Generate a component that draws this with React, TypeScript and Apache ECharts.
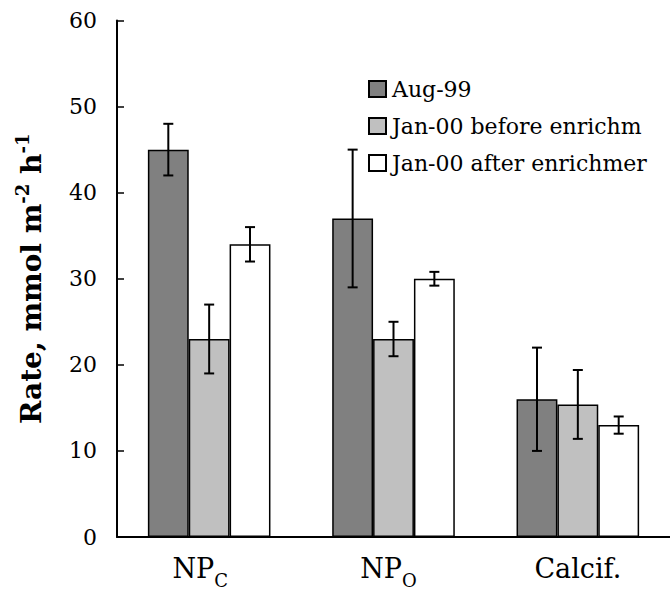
import React, { useEffect, useRef } from "react";
import * as echarts from "echarts";

const categories = ["NPC", "NPO", "Calcif."];
const seriesNames = ["Aug-99", "Jan-00 before enrichm", "Jan-00 after enrichmer"];
const aug99 = [45, 37, 16];
const aug99Err = [3, 8, 6];
const janBefore = [23, 23, 15.4];
const janBeforeErr = [4, 2, 4];
const janAfter = [34, 30, 13];
const janAfterErr = [2, 0.8, 1];
const colors = ["#808080", "#c0c0c0", "#ffffff"];

const FONT = "DejaVu Serif";
const GAP = 0.335;

function errSeries(k: number, means: number[], errs: number[]) {
  return {
    type: "custom",
    silent: true,
    z: 10,
    data: means.map((m, i) => [i, m - errs[i], m + errs[i]]),
    encode: { x: 0, y: [1, 2] },
    renderItem: (params: any, api: any) => {
      const idx = api.value(0);
      const lo = api.coord([idx, api.value(1)]);
      const hi = api.coord([idx, api.value(2)]);
      const band = api.size([1, 0])[0];
      const bw = (band * (1 - GAP)) / 3;
      const x = lo[0] + (k - 1) * bw;
      const cap = 5;
      const style = { stroke: "#000", lineWidth: 2 };
      return {
        type: "group",
        children: [
          { type: "line", shape: { x1: x, y1: lo[1], x2: x, y2: hi[1] }, style },
          { type: "line", shape: { x1: x - cap, y1: hi[1], x2: x + cap, y2: hi[1] }, style },
          { type: "line", shape: { x1: x - cap, y1: lo[1], x2: x + cap, y2: lo[1] }, style },
        ],
      };
    },
  };
}

export default function App() {
  const ref = useRef<HTMLDivElement>(null);
  useEffect(() => {
    if (!ref.current) return;
    const chart = echarts.init(ref.current, null, { renderer: "svg" });
    const values = [aug99, janBefore, janAfter];
    const errs = [aug99Err, janBeforeErr, janAfterErr];
    const sub = { fontFamily: FONT, fontSize: 18, color: "#000", lineHeight: 20, verticalAlign: "bottom" };
    chart.setOption({
      animation: false,
      backgroundColor: "#fff",
      grid: { left: 117, top: 20.5, right: -10, bottom: 58 },
      legend: {
        data: seriesNames,
        orient: "vertical",
        left: 368,
        top: 76,
        padding: 0,
        itemWidth: 17,
        itemHeight: 16,
        itemGap: 11,
        icon: "rect",
        textStyle: { fontFamily: FONT, fontSize: 22, color: "#000", lineHeight: 26, padding: [0, 0, 0, 1] },
      },
      xAxis: {
        type: "category",
        data: categories,
        axisLine: { lineStyle: { color: "#000", width: 2 } },
        axisTick: { show: false },
        axisLabel: {
          margin: 18,
          formatter: (v: string) =>
            v === "NPC" ? "{m|NP}{sc|C}" : v === "NPO" ? "{m|NP}{so|O}" : "{m|" + v + "}",
          rich: {
            m: { fontFamily: FONT, fontSize: 27, color: "#000", lineHeight: 34, verticalAlign: "top" },
            sc: { ...sub, padding: [0, 18, 0, 0] },
            so: { ...sub, padding: [0, 10, 0, 0] },
          },
        },
      },
      yAxis: {
        type: "value",
        min: 0,
        max: 60,
        interval: 10,
        name: "{m|Rate, mmol m}{s|-2}{m| h}{s|-1}",
        nameLocation: "middle",
        nameGap: 72,
        nameTextStyle: {
          rich: {
            m: { fontFamily: FONT, fontSize: 28, fontWeight: "bold", color: "#000", lineHeight: 32, verticalAlign: "bottom" },
            s: { fontFamily: FONT, fontSize: 18, fontWeight: "bold", color: "#000", lineHeight: 18, verticalAlign: "top" },
          },
        },
        axisLine: { show: true, lineStyle: { color: "#000", width: 2 } },
        axisTick: { show: true, inside: true, length: 7, lineStyle: { color: "#000", width: 1.5 } },
        axisLabel: { fontFamily: FONT, fontSize: 22, color: "#000", margin: 20 },
        splitLine: { show: false },
      },
      series: [
        ...values.map((vals, k) => ({
          type: "bar",
          name: seriesNames[k],
          data: vals,
          barGap: "0%",
          barCategoryGap: GAP * 100 + "%",
          itemStyle: { color: colors[k], borderColor: "#000", borderWidth: 1.5 },
        })),
        ...values.map((vals, k) => errSeries(k, vals, errs[k])),
      ],
    });
    return () => chart.dispose();
  }, []);
  return (
    <div
      ref={ref}
      style={{ position: "absolute", left: 0, top: 0, width: 670, height: 595 }}
    />
  );
}
